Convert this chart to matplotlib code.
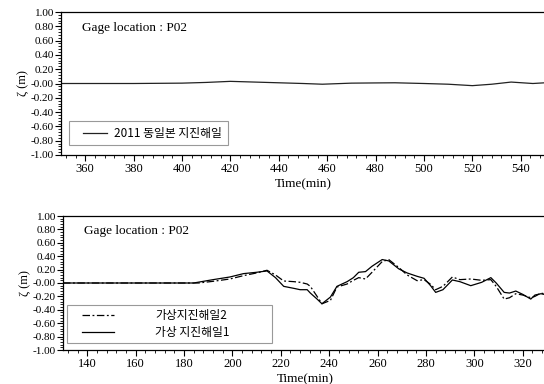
import numpy as np
import matplotlib
matplotlib.use("Agg")
import matplotlib.pyplot as plt
from matplotlib.ticker import MultipleLocator, FormatStrFormatter
from matplotlib.legend_handler import HandlerLine2D

plt.rcParams['font.family'] = ['Liberation Serif', 'DejaVu Serif']
plt.rcParams['axes.unicode_minus'] = False

# top panel: 2011 event at P02
t_2011 = [350, 360, 380, 400, 410, 420, 430, 440, 450, 458, 470, 480, 488,
          500, 510, 520, 528, 536, 545, 550]
z_2011 = [0.0, 0.0, 0.0, 0.005, 0.015, 0.03, 0.02, 0.01, 0.0, -0.01, 0.005,
          0.008, 0.01, 0.0, -0.01, -0.03, -0.01, 0.02, 0.0, 0.01]

# bottom panel: scenario 1 (solid)
t_s1 = [130, 184, 192, 199, 204.6, 210, 214.3, 217.8, 221.2, 225.4, 228, 230.9,
        232.2, 235, 237, 240.5, 243.2, 247.4, 250, 252.2, 255, 257.7, 261.9,
        264.6, 268.8, 272.2, 276.3, 279.2, 281.9, 284, 287, 290.9, 294, 298.5,
        303, 306.8, 309, 312.3, 314.5, 317.1, 320, 323.3, 325, 327.5, 330]
z_s1 = [0.0, 0.0, 0.05, 0.09, 0.14, 0.16, 0.18, 0.08, -0.05, -0.08, -0.10, -0.10,
        -0.15, -0.24, -0.31, -0.21, -0.05, 0.02, 0.08, 0.16, 0.17, 0.25, 0.35,
        0.33, 0.21, 0.15, 0.10, 0.07, -0.04, -0.14, -0.10, 0.045, 0.02, -0.04,
        0.01, 0.08, 0.0, -0.14, -0.15, -0.12, -0.17, -0.24, -0.18, -0.16, -0.18]

# bottom panel: scenario 2 (dash-dot)
t_s2 = [130, 186, 192, 199, 204.6, 210, 214.3, 217.8, 221.2, 225.4, 228, 230.9,
        232.2, 235, 237, 240.5, 243.2, 247.4, 250, 252.2, 255, 257.7, 261.9,
        264.6, 268.8, 272.2, 276.3, 279.2, 281.9, 284, 287, 290.9, 294, 298.5,
        303, 306.8, 309, 312.3, 314.5, 317.1, 320, 323.3, 325, 327.5, 330]
z_s2 = [0.0, 0.0, 0.025, 0.06, 0.11, 0.15, 0.19, 0.12, 0.03, 0.02, 0.01, -0.015,
        -0.05, -0.20, -0.31, -0.26, -0.06, -0.015, 0.04, 0.08, 0.06, 0.16, 0.32,
        0.35, 0.23, 0.12, 0.035, 0.05, -0.02, -0.10, -0.05, 0.09, 0.05, 0.06,
        0.04, 0.05, -0.05, -0.24, -0.22, -0.16, -0.18, -0.22, -0.20, -0.15, -0.17]

y_ticks = np.arange(-1.0, 1.01, 0.2)
kr_font = {'family': ['Noto Sans CJK KR', 'DejaVu Sans'], 'size': 8.5}


def style_axes(ax, xlim, xmajor):
    ax.set_xlim(*xlim)
    ax.set_ylim(-1.0, 1.0)
    ax.set_yticks(y_ticks)
    ax.yaxis.set_major_formatter(FormatStrFormatter('%.2f'))
    ax.xaxis.set_major_locator(MultipleLocator(xmajor))
    ax.xaxis.set_minor_locator(MultipleLocator(4))
    ax.yaxis.set_minor_locator(MultipleLocator(0.04))
    ax.tick_params(which='major', direction='out', length=4, width=0.8)
    ax.tick_params(which='minor', direction='out', length=2, width=0.6)
    ax.tick_params(axis='x', labelsize=9, pad=2)
    ax.tick_params(axis='y', labelsize=8, pad=1)
    ax.spines['right'].set_visible(False)
    for s in ('left', 'bottom', 'top'):
        ax.spines[s].set_linewidth(0.9)
    ax.set_xlabel('Time(min)', fontsize=9.5, labelpad=2)
    ax.set_ylabel('ζ (m)', fontsize=9, labelpad=1)
    ax.text(0.043, 0.93, 'Gage location : P02', transform=ax.transAxes,
            fontsize=9.5, va='top', ha='left')


fig = plt.figure(figsize=(5.44, 3.84), dpi=100)

ax1 = fig.add_axes([61 / 544, 1 - 155 / 384, 484 / 544, 143 / 384])
ax1.plot(t_2011, z_2011, color='#222222', lw=0.9, label='2011 동일본 지진해일')
style_axes(ax1, (350, 550), 20)
leg1 = ax1.legend(loc='lower left', bbox_to_anchor=(8 / 484, 10 / 143),
                  borderaxespad=0, fancybox=False, edgecolor='#808080',
                  handlelength=2.75, handletextpad=0.65, borderpad=0.45,
                  handler_map={plt.Line2D: HandlerLine2D(xpad=0.74)},
                  prop=kr_font)
leg1.get_frame().set_linewidth(0.8)

ax2 = fig.add_axes([63 / 544, 1 - 350 / 384, 484 / 544, 134 / 384])
ax2.plot(t_s2, z_s2, color='black', lw=0.9, linestyle=(0, (6, 2, 1.5, 2)),
         label='가상지진해일2')
ax2.plot(t_s1, z_s1, color='black', lw=0.9, label='가상 지진해일1')
style_axes(ax2, (130, 330), 20)
leg2 = ax2.legend(loc='lower left', bbox_to_anchor=(4 / 484, 7 / 134, 205 / 484, 37 / 134),
                  mode='expand', borderaxespad=0, fancybox=False, edgecolor='#808080',
                  handlelength=3.64, handletextpad=3.5, borderpad=0.35, labelspacing=0.35,
                  handler_map={plt.Line2D: HandlerLine2D(xpad=0.93)},
                  prop=kr_font)
leg2.get_frame().set_linewidth(0.8)

fig.savefig('out.png', dpi=100)
plt.close(fig)
